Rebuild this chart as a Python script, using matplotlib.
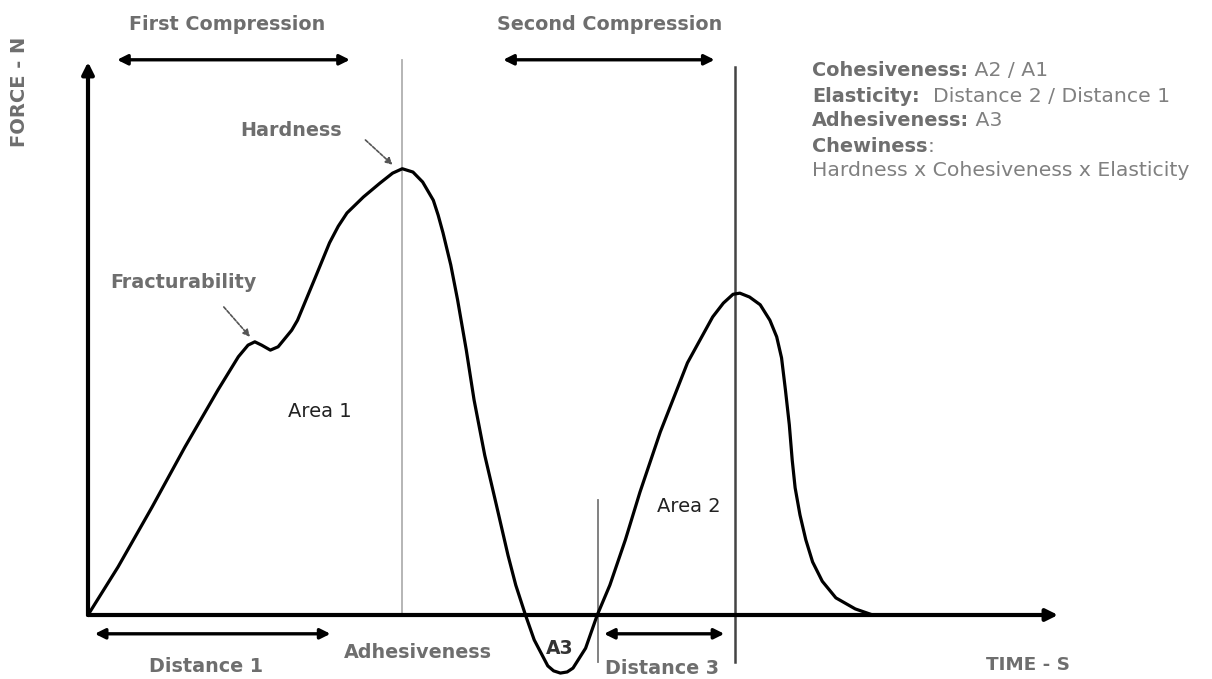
import matplotlib
matplotlib.use("Agg")
import matplotlib.pyplot as plt

W, H = 1212, 679

# texture profile curve: time (s) and force (N)
time_s = [0.0, 3.1, 6.6, 10.0, 13.4, 15.5, 16.5, 17.2, 17.9, 18.8, 19.6, 21.0,
          21.6, 23.4, 24.9, 25.8, 26.7, 28.4, 30.1, 31.4, 32.4, 33.5, 34.5,
          35.6, 36.1, 36.6, 37.4, 38.1, 39.0, 39.8, 40.9, 42.1, 43.3, 44.1,
          45.1, 46.0, 47.4, 48.0, 48.7, 49.4, 50.0, 51.3, 52.5, 53.8, 55.4,
          56.9, 59.0, 61.8, 64.4, 65.5, 66.5, 67.2, 68.2, 69.3, 70.3, 71.0,
          71.5, 71.9, 72.3, 72.6, 72.9, 73.4, 74.0, 74.7, 75.7, 77.1, 79.1,
          80.9]
force_n = [0.0, 8.7, 19.5, 30.4, 40.7, 46.7, 48.8, 49.4, 48.8, 47.9, 48.5, 51.5,
           53.3, 60.9, 67.3, 70.3, 72.7, 75.6, 78.1, 79.9, 80.7, 80.1, 78.3,
           75.0, 72.3, 69.1, 63.3, 57.0, 47.9, 38.9, 28.9, 19.9, 10.8, 5.4,
           0.0, -4.5, -9.2, -10.1, -10.5, -10.3, -9.6, -6.0, 0.0, 5.4, 13.6,
           22.2, 33.1, 45.6, 53.9, 56.4, 58.0, 58.2, 57.5, 56.1, 53.3, 50.3,
           46.5, 40.7, 34.4, 28.0, 23.0, 18.1, 13.6, 9.6, 6.1, 3.1, 1.1, 0.0]

# markers on the time axis
hardness_t = 32.4
second_peak_t = 66.7
second_start_t = 52.6
first_comp = (3.0, 27.0)
second_comp = (42.8, 64.6)
distance1 = (0.7, 25.0)
distance3 = (53.2, 65.6)

legend_lines = [("Cohesiveness:", " A2 / A1"),
                ("Elasticity:", "  Distance 2 / Distance 1"),
                ("Adhesiveness:", " A3"),
                ("Chewiness", ":"),
                ("", "Hardness x Cohesiveness x Elasticity")]

GREY = "#6e6e6e"
LIGHT = "#808080"
FONT = "DejaVu Sans"

fig = plt.figure(figsize=(W / 100, H / 100), dpi=100)
ax = fig.add_axes([0, 0, 1, 1])
ax.set_xlim(-88 / 9.7, (W - 88) / 9.7)
ax.set_ylim((615 - H) / 5.53, 615 / 5.53)
ax.axis("off")

# axes with arrow heads
arrow_kw = dict(arrowstyle="-|>,head_length=0.7,head_width=0.35", color="black", lw=3,
                shrinkA=0, shrinkB=0)
ax.annotate("", xy=(100, 0), xytext=(0, 0), arrowprops=arrow_kw)
ax.annotate("", xy=(0, 100), xytext=(0, 0), arrowprops=arrow_kw)

# vertical guides
ax.plot([hardness_t, hardness_t], [0, 100.4], color="#b0b0b0", lw=1.3)
ax.plot([second_peak_t, second_peak_t], [-8.5, 99.1], color="#444444", lw=1.8)
ax.plot([second_start_t, second_start_t], [-8.5, 20.8], color="#777777", lw=1.3)

ax.plot(time_s, force_n, color="black", lw=2.3, solid_joinstyle="round")

# double arrows
dbl = dict(arrowstyle="<|-|>,head_length=0.6,head_width=0.3", color="black", lw=2.4,
           shrinkA=0, shrinkB=0)
for (a, b), y in [(first_comp, 100.4), (second_comp, 100.4),
                  (distance1, -3.4), (distance3, -3.4)]:
    ax.annotate("", xy=(b, y), xytext=(a, y), arrowprops=dbl)

# pointer arrows
ptr = dict(arrowstyle="-|>,head_length=0.4,head_width=0.2", color="#555555", lw=1.2,
           linestyle=(0, (2, 1)), shrinkA=0, shrinkB=0)
ax.annotate("", xy=(31.4, 81.4), xytext=(28.6, 85.9), arrowprops=ptr)
ax.annotate("", xy=(16.7, 50.3), xytext=(14.0, 55.7), arrowprops=ptr)


def ftext(x, y, s, **kw):
    kw.setdefault("color", GREY)
    kw.setdefault("fontfamily", FONT)
    kw.setdefault("fontweight", "bold")
    kw.setdefault("fontsize", 13.8)
    return fig.text(x / W, 1 - y / H, s, **kw)


ftext(227, 25, "First Compression", ha="center", va="center")
ftext(610, 25, "Second Compression", ha="center", va="center")
ftext(20, 92, "FORCE - N", ha="center", va="center", rotation=90, fontsize=14)
ftext(291, 130, "Hardness", ha="center", va="center")
ftext(183, 282, "Fracturability", ha="center", va="center")
ftext(206, 666, "Distance 1", ha="center", va="center")
ftext(418, 653, "Adhesiveness", ha="center", va="center")
ftext(662, 668, "Distance 3", ha="center", va="center")
ftext(1028, 665, "TIME - S", ha="center", va="center", fontsize=13.2)

ftext(320, 412, "Area 1", ha="center", va="center", color="#222222",
      fontweight="normal", fontsize=14)
ftext(689, 507, "Area 2", ha="center", va="center", color="#222222",
      fontweight="normal", fontsize=14)
ftext(560, 648, "A3", ha="center", va="center", color="#333333", fontsize=13.5)

# definitions block: bold label followed by regular text
renderer = fig.canvas.get_renderer()
y0 = 71
for i, (label, rest) in enumerate(legend_lines):
    y = y0 + i * 25
    x = 812
    if label:
        t = ftext(x, y, label, ha="left", va="center", fontsize=13.9)
        x += t.get_window_extent(renderer).width
    ftext(x, y, rest, ha="left", va="center", fontsize=14.7, fontweight="normal",
          color=LIGHT)

fig.savefig("out.png", dpi=100, facecolor="white")
